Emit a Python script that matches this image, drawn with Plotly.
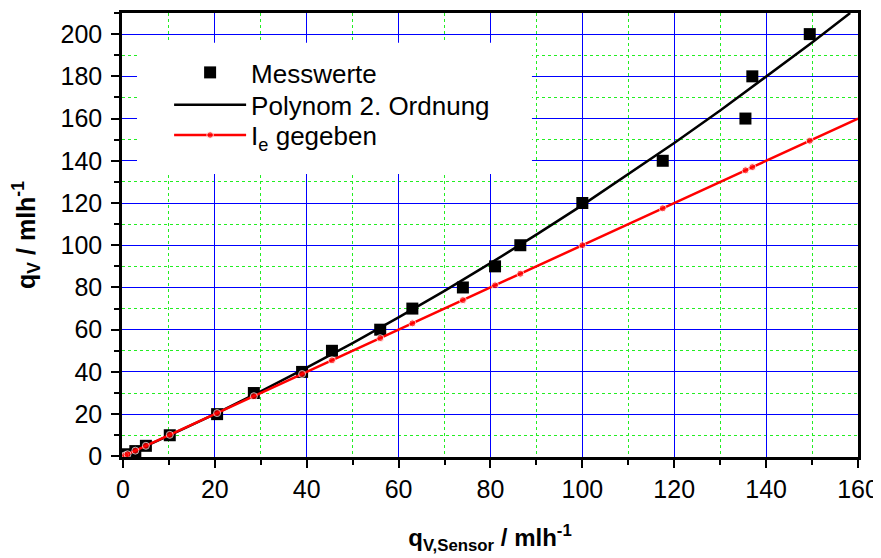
import plotly.graph_objects as go

# Measured values (x = q_V,Sensor, y = q_V)
mess_x = [0, 0.5, 1, 2.7, 5, 10.2, 20.5, 28.5, 39, 45.5, 56, 63, 74, 81, 86.5, 100, 117.5, 135.5, 137, 149.5]
mess_y = [0, 0.5, 1, 2.5, 5, 10, 20, 30, 40, 50, 60, 70, 80, 90, 100, 120, 140, 160, 180, 200]

# 2nd-order polynomial fit curve
fit_x = [0, 10, 20, 30, 40, 50, 60, 70, 80, 90, 100, 110, 120, 130, 140, 150, 158.3]
fit_y = [0, 9.8, 20.0, 30.8, 42.0, 53.6, 65.8, 78.4, 91.5, 105.0, 119.0, 133.5, 148.4, 163.8, 179.7, 196.0, 210]

# I_e given curve (markers at sensor values, line extends to 160)
ie_x = [0, 0.5, 1, 2.7, 5, 10.2, 20.5, 28.5, 39, 45.5, 56, 63, 74, 81, 86.5, 100, 117.5, 135.5, 137, 149.5, 160]
ie_y = [0, 0.5, 1, 2.7, 5, 10.2, 20.5, 28.5, 39, 45.5, 56, 63, 74, 81, 86.5, 100, 117.5, 135.5, 137, 149.5, 160]

x_ticks = [0, 20, 40, 60, 80, 100, 120, 140, 160]
y_ticks = [0, 20, 40, 60, 80, 100, 120, 140, 160, 180, 200]

FONT = "Liberation Sans"

fig = go.Figure()
fig.add_trace(go.Scatter(
    x=mess_x, y=mess_y, mode="markers", name="Messwerte",
    marker=dict(symbol="square", size=12, color="black"),
))
fig.add_trace(go.Scatter(
    x=fit_x, y=fit_y, mode="lines", name="Polynom 2. Ordnung", legend="legend2",
    line=dict(color="black", width=2.5),
))
fig.add_trace(go.Scatter(
    x=ie_x, y=ie_y, mode="lines+markers", name="I<sub>e</sub> gegeben", legend="legend3",
    line=dict(color="#ff0000", width=2.5),
    marker=dict(symbol="circle", size=[7] * (len(ie_x) - 1) + [0], color="#ff0000"),
))

axis_common = dict(
    showline=True, linecolor="black", linewidth=2.5, mirror=True,
    ticks="outside", ticklen=8, tickwidth=2, tickcolor="black",
    showgrid=True, gridcolor="#0000ff", gridwidth=1,
    zeroline=False,
    tickfont=dict(family=FONT, size=25, color="black"),
    minor=dict(ticks="outside", ticklen=5, tickwidth=2, tickcolor="black",
               showgrid=True, gridcolor="#22ee22", griddash="dot", gridwidth=1),
)

fig.update_xaxes(
    range=[-0.2, 160], tickvals=x_ticks, ticktext=[str(v) for v in x_ticks],
    minor_dtick=10, minor_tick0=0,
    title=dict(text="<b>q<sub>V,Sensor</sub> / mlh<sup>-1</sup></b>",
               font=dict(family=FONT, size=24, color="black"), standoff=28),
    **axis_common,
)
fig.update_yaxes(
    range=[-0.3, 210], tickvals=y_ticks, ticktext=[str(v) for v in y_ticks],
    minor_dtick=10, minor_tick0=0, ticklabelstandoff=4,
    title=dict(text="<b>q<sub>V</sub> / mlh<sup>-1</sup></b>",
               font=dict(family=FONT, size=25, color="black"), standoff=27),
    **axis_common,
)

# white box behind the legend (hides the grid there)
fig.add_shape(type="rect", xref="paper", yref="paper",
              x0=0.0204, x1=0.557, y0=0.6376, y1=0.933,
              fillcolor="white", line=dict(width=0), layer="above")

leg_common = dict(
    xanchor="left", yanchor="middle",
    bgcolor="rgba(0,0,0,0)", borderwidth=0,
    font=dict(family=FONT, size=26, color="black"),
    itemwidth=72,
)

fig.update_layout(
    width=873, height=550,
    margin=dict(l=114, r=23, t=2, b=101),
    plot_bgcolor="white", paper_bgcolor="white",
    font=dict(family=FONT, color="black"),
    showlegend=True,
    legend=dict(x=0.064, y=0.866, **leg_common),
    legend2=dict(x=0.064, y=0.793, **leg_common),
    legend3=dict(x=0.064, y=0.725, **leg_common),
)

fig.write_html("out.html")
